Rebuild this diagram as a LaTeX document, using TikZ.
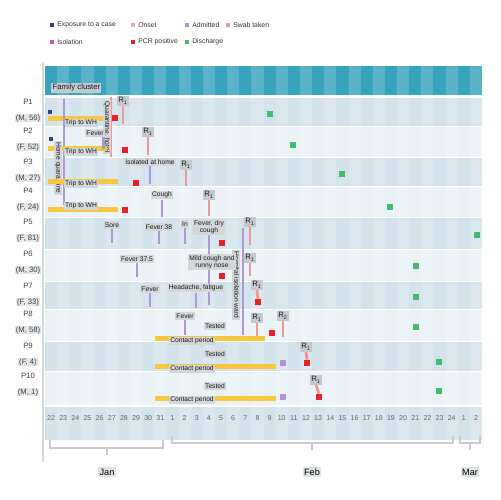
\documentclass[tikz,border=0pt]{standalone}
\usepackage{fontspec}
\setmainfont{Liberation Sans}
\usepackage{tikz}
\usetikzlibrary{positioning}
\definecolor{HeadTeal}{RGB}{56,163,190}
\definecolor{RowDark}{RGB}{211,227,235}
\definecolor{RowLight}{RGB}{234,242,246}
\definecolor{BarYellow}{RGB}{247,199,62}
\definecolor{StickPurple}{RGB}{176,152,216}
\definecolor{StickRed}{RGB}{240,150,155}
\definecolor{MarkRed}{RGB}{232,32,40}
\definecolor{MarkGreen}{RGB}{70,185,110}
\definecolor{MarkBlue}{RGB}{52,62,128}
\definecolor{MarkMagenta}{RGB}{196,84,196}
\definecolor{MarkPink}{RGB}{222,172,222}
\definecolor{LabGray}{RGB}{196,201,206}
\tikzset{
  tinyfont/.style={font=\fontsize{3.8}{4.2}\selectfont},
  tag/.style={tinyfont,fill=LabGray!75,text=black!90,inner sep=0.7pt},
  rtag/.style={tag,fill=LabGray,font=\fontsize{4.4}{5}\selectfont},
  legtext/.style={font=\fontsize{3.9}{4.5}\selectfont,text=black!80,inner sep=0.8pt,anchor=west},
  legsq/.style={minimum size=2.8pt,inner sep=0pt},
  marksq/.style={minimum size=3.4pt,inner sep=0pt},
  redsq/.style={marksq,fill=MarkRed},
  greensq/.style={marksq,fill=MarkGreen,minimum height=3.8pt},
  bluesq/.style={marksq,fill=MarkBlue,minimum size=2.8pt},
  lavsq/.style={marksq,fill=StickPurple!90!MarkMagenta},
  pstick/.style={StickPurple,line width=1.6pt},
  rstick/.style={StickRed,line width=1.6pt},
  ybar/.style={fill=BarYellow},
  rowid/.style={font=\fontsize{4.4}{5}\selectfont,text=black!75,inner sep=0.5pt},
  rowinfo/.style={rowid,fill=LabGray!45},
  daylab/.style={font=\fontsize{4}{4.5}\selectfont,text=black!60,inner sep=0pt},
  brk/.style={gray!40,line width=1pt},
  monthlab/.style={font=\fontsize{5.2}{6}\selectfont,fill=LabGray!50,inner sep=0.8pt}
}
\begin{document}
\begin{tikzpicture}[x=0.02cm,y=-0.02cm]
\useasboundingbox (0,0) rectangle (500,500);
% legend
\node[legsq,fill=MarkBlue] (lg1) at (52,25) {};
\node[legtext,right=0.4pt of lg1] (lt1) {Exposure to a case};
\node[legsq,fill=MarkPink] (lg2) at (133,25) {};
\node[legtext,right=0.4pt of lg2] (lt2) {Onset};
\node[legsq,fill=StickPurple] (lg3) at (187,25) {};
\node[legtext,right=0.4pt of lg3] (lt3) {Admitted};
\node[legsq,fill=StickRed] (lg4) at (228,25) {};
\node[legtext,right=0.4pt of lg4] (lt4) {Swab taken};
\node[legsq,fill=MarkMagenta] (lg5) at (52,42) {};
\node[legtext,right=0.4pt of lg5] (lt5) {Isolation};
\node[legsq,fill=MarkRed] (lg6) at (133,42) {};
\node[legtext,right=0.4pt of lg6] (lt6) {PCR positive};
\node[legsq,fill=MarkGreen] (lg7) at (187,42) {};
\node[legtext,right=0.4pt of lg7] (lt7) {Discharge};
% header and rows
\fill[HeadTeal] (45,66) rectangle (482,95);
\foreach \ya/\yb/\c in {98/126/RowDark,127/157/RowLight,158/186/RowDark,187/217/RowLight,
  218/249/RowDark,250/281/RowLight,282/309/RowDark,310/341/RowLight,342/371/RowDark,372/405/RowLight}
  \fill[\c] (45,\ya) rectangle (482,\yb);
\fill[RowDark] (45,407) rectangle (482,440);
\foreach \i in {1,3,...,35}
  \fill[white,opacity=0.17] ({45+12.14*\i},66) rectangle ({45+12.14*(\i+1)},440);
\draw[gray!30,line width=0.8pt] (43,62) -- (43,462);
\node[rtag,anchor=west] (head) at (51,88) {Family cluster};
% row labels
\foreach \t/\a/\b [count=\k] in {98/P1/{M, 56},127/P2/{F, 52},158/P3/{M, 27},187/P4/{F, 24},
  218/P5/{F, 81},250/P6/{M, 30},282/P7/{F, 33},310/P8/{M, 58},342/P9/{F, 4},372/P10/{M, 1}}{
  \node[rowid] (id\k) at (28,\t+4) {\a};
  \node[rowinfo] (info\k) at (28,\t+20) {(\b)};
}
% row 1
\node[bluesq] (b1) at (50,112) {};
\fill[ybar] (48,116) rectangle (106,121);
\node[tag] (y1) at (81,123) {Trip to WH};
\coordinate (pl1) at (64,99);
\coordinate (pl2) at (64,205);
\draw[pstick] (pl1) -- (pl2);
\coordinate (ql1) at (111,97);
\coordinate (ql2) at (111,157);
\draw[rstick] (ql1) -- (ql2);
\node[tag,rotate=-90] (q1) at (107,127) {Quarantine, hotel};
\node[redsq] (s1) at (115,118) {};
\node[rtag] (r1) at (123,101) {R\textsubscript{1}};
\draw[rstick] (r1.south) -- ++(0,18);
\node[greensq] (g1) at (270,114) {};
% row 2
\node[bluesq] (b2) at (51,139) {};
\fill[ybar] (48,146) rectangle (107,151);
\node[tag] (y2) at (81,152) {Trip to WH};
\node[tag,rotate=-90] (q2) at (58,168) {Home quarantine};
\node[tag] (t2) at (95,133) {Fever};
\draw[pstick] (t2.south east) ++(-1.5,0) -- ++(0,12);
\node[redsq] (s2) at (125,150) {};
\node[rtag] (r2) at (148,132) {R\textsubscript{1}};
\draw[rstick] (r2.south) -- ++(0,18);
\node[greensq] (g2) at (293,145) {};
% row 3
\fill[ybar] (48,179) rectangle (118,184);
\node[tag] (y3) at (81,184) {Trip to WH};
\node[tag] (t3) at (150,162) {Isolated at home};
\draw[pstick] (t3.south) -- ++(0,18);
\node[redsq] (s3) at (136,183) {};
\node[rtag] (r3) at (186,165) {R\textsubscript{1}};
\draw[rstick] (r3.south) -- ++(0,16);
\node[greensq] (g3) at (342,174) {};
% row 4
\fill[ybar] (48,207) rectangle (118,212);
\node[tag] (y4) at (81,206) {Trip to WH};
\node[redsq] (s4) at (125,210) {};
\node[tag] (t4) at (162,195) {Cough};
\draw[pstick] (t4.south) -- ++(0,17);
\node[rtag] (r4) at (209,195) {R\textsubscript{1}};
\draw[rstick] (r4.south) -- ++(0,16);
\node[greensq] (g4) at (390,207) {};
% row 5
\node[tag] (t5a) at (112,225) {Sore};
\draw[pstick] (t5a.south) -- ++(0,14);
\node[tag] (t5b) at (159,227) {Fever 38};
\draw[pstick] (t5b.south) -- ++(0,13);
\node[tag] (t5c) at (185,224) {In};
\draw[pstick] (t5c.south) -- ++(0,16);
\node[tag,align=center] (t5d) at (209,227) {Fever, dry\\cough};
\draw[pstick] (t5d.south) -- ++(0,70);
\node[redsq] (s5) at (222,243) {};
\coordinate (pl3) at (243,228);
\coordinate (pl4) at (243,335);
\draw[pstick] (pl3) -- (pl4);
\node[tag,rotate=-90] (q5) at (236,285) {Hospital isolation ward};
\node[rtag] (r5) at (250,222) {R\textsubscript{1}};
\draw[rstick] (r5.south) -- ++(0,18);
\node[greensq] (g5) at (477,235) {};
% row 6
\node[tag] (t6a) at (137,259) {Fever 37.5};
\draw[pstick] (t6a.south) -- ++(0,14);
\node[tag,align=center] (t6b) at (212,262) {Mild cough and\\runny nose};
\node[redsq] (s6) at (222,276) {};
\node[rtag] (r6) at (250,258) {R\textsubscript{1}};
\draw[rstick] (r6.south) -- ++(0,13);
\node[greensq] (g6) at (416,266) {};
% row 7
\node[tag] (t7a) at (150,289) {Fever};
\draw[pstick] (t7a.south) -- ++(0,14);
\node[tag] (t7b) at (196,288) {Headache, fatigue};
\draw[pstick] (t7b.south) -- ++(0,15);
\node[rtag] (r7) at (257,285) {R\textsubscript{1}};
\node[redsq] (s7) at (258,302) {};
\draw[rstick] (r7.south) -- (s7.north);
\node[greensq] (g7) at (416,297) {};
% row 8
\node[tag] (t8a) at (185,316) {Fever};
\draw[pstick] (t8a.south) -- ++(0,15);
\node[tag] (t8b) at (215,326) {Tested};
\node[rtag] (r8a) at (257,318) {R\textsubscript{1}};
\draw[rstick] (r8a.south) -- ++(0,13);
\node[redsq] (s8) at (272,333) {};
\node[rtag] (r8b) at (283,316) {R\textsubscript{2}};
\draw[rstick] (r8b.south) -- ++(0,16);
\fill[ybar] (155,336) rectangle (265,341);
\node[tag] (y8) at (192,341) {Contact period};
\node[greensq] (g8) at (416,327) {};
% row 9
\node[tag] (t9) at (215,354) {Tested};
\fill[ybar] (155,364) rectangle (276,369);
\node[tag] (y9) at (192,369) {Contact period};
\node[lavsq] (p9) at (283,363) {};
\node[rtag] (r9) at (306,347) {R\textsubscript{1}};
\node[redsq] (s9) at (307,363) {};
\draw[rstick] (r9.south) -- (s9.north);
\node[greensq] (g9) at (439,362) {};
% row 10
\node[tag] (t10) at (215,386) {Tested};
\fill[ybar] (155,396) rectangle (276,401);
\node[tag] (y10) at (192,400) {Contact period};
\node[lavsq] (p10) at (283,397) {};
\node[rtag] (r10) at (316,380) {R\textsubscript{1}};
\node[redsq] (s10) at (319,397) {};
\draw[rstick] (r10.south) -- (s10.north);
\node[greensq] (g10) at (439,391) {};
% day axis
\foreach \d [count=\i from 0] in {22,23,24,25,26,27,28,29,30,31,1,2,3,4,5,6,7,8,9,10,11,12,
  13,14,15,16,17,18,19,20,21,22,23,24,1,2}
  \node[daylab] (d\i) at ({45+12.14*(\i+0.5)},418) {\d};
% month brackets
\draw[brk] (50,440) -- (50,448) -- (163,448) -- (163,440);
\draw[brk] (107,448) -- (107,455);
\draw[brk] (172,436) -- (172,443) -- (453,443) -- (453,436);
\draw[brk] (312,443) -- (312,450);
\draw[brk] (460,436) -- (460,443) -- (480,443) -- (480,436);
\draw[brk] (470,443) -- (470,450);
\node[monthlab] (m1) at (107,472) {Jan};
\node[monthlab] (m2) at (312,472) {Feb};
\node[monthlab] (m3) at (470,472) {Mar};
\end{tikzpicture}
\end{document}
